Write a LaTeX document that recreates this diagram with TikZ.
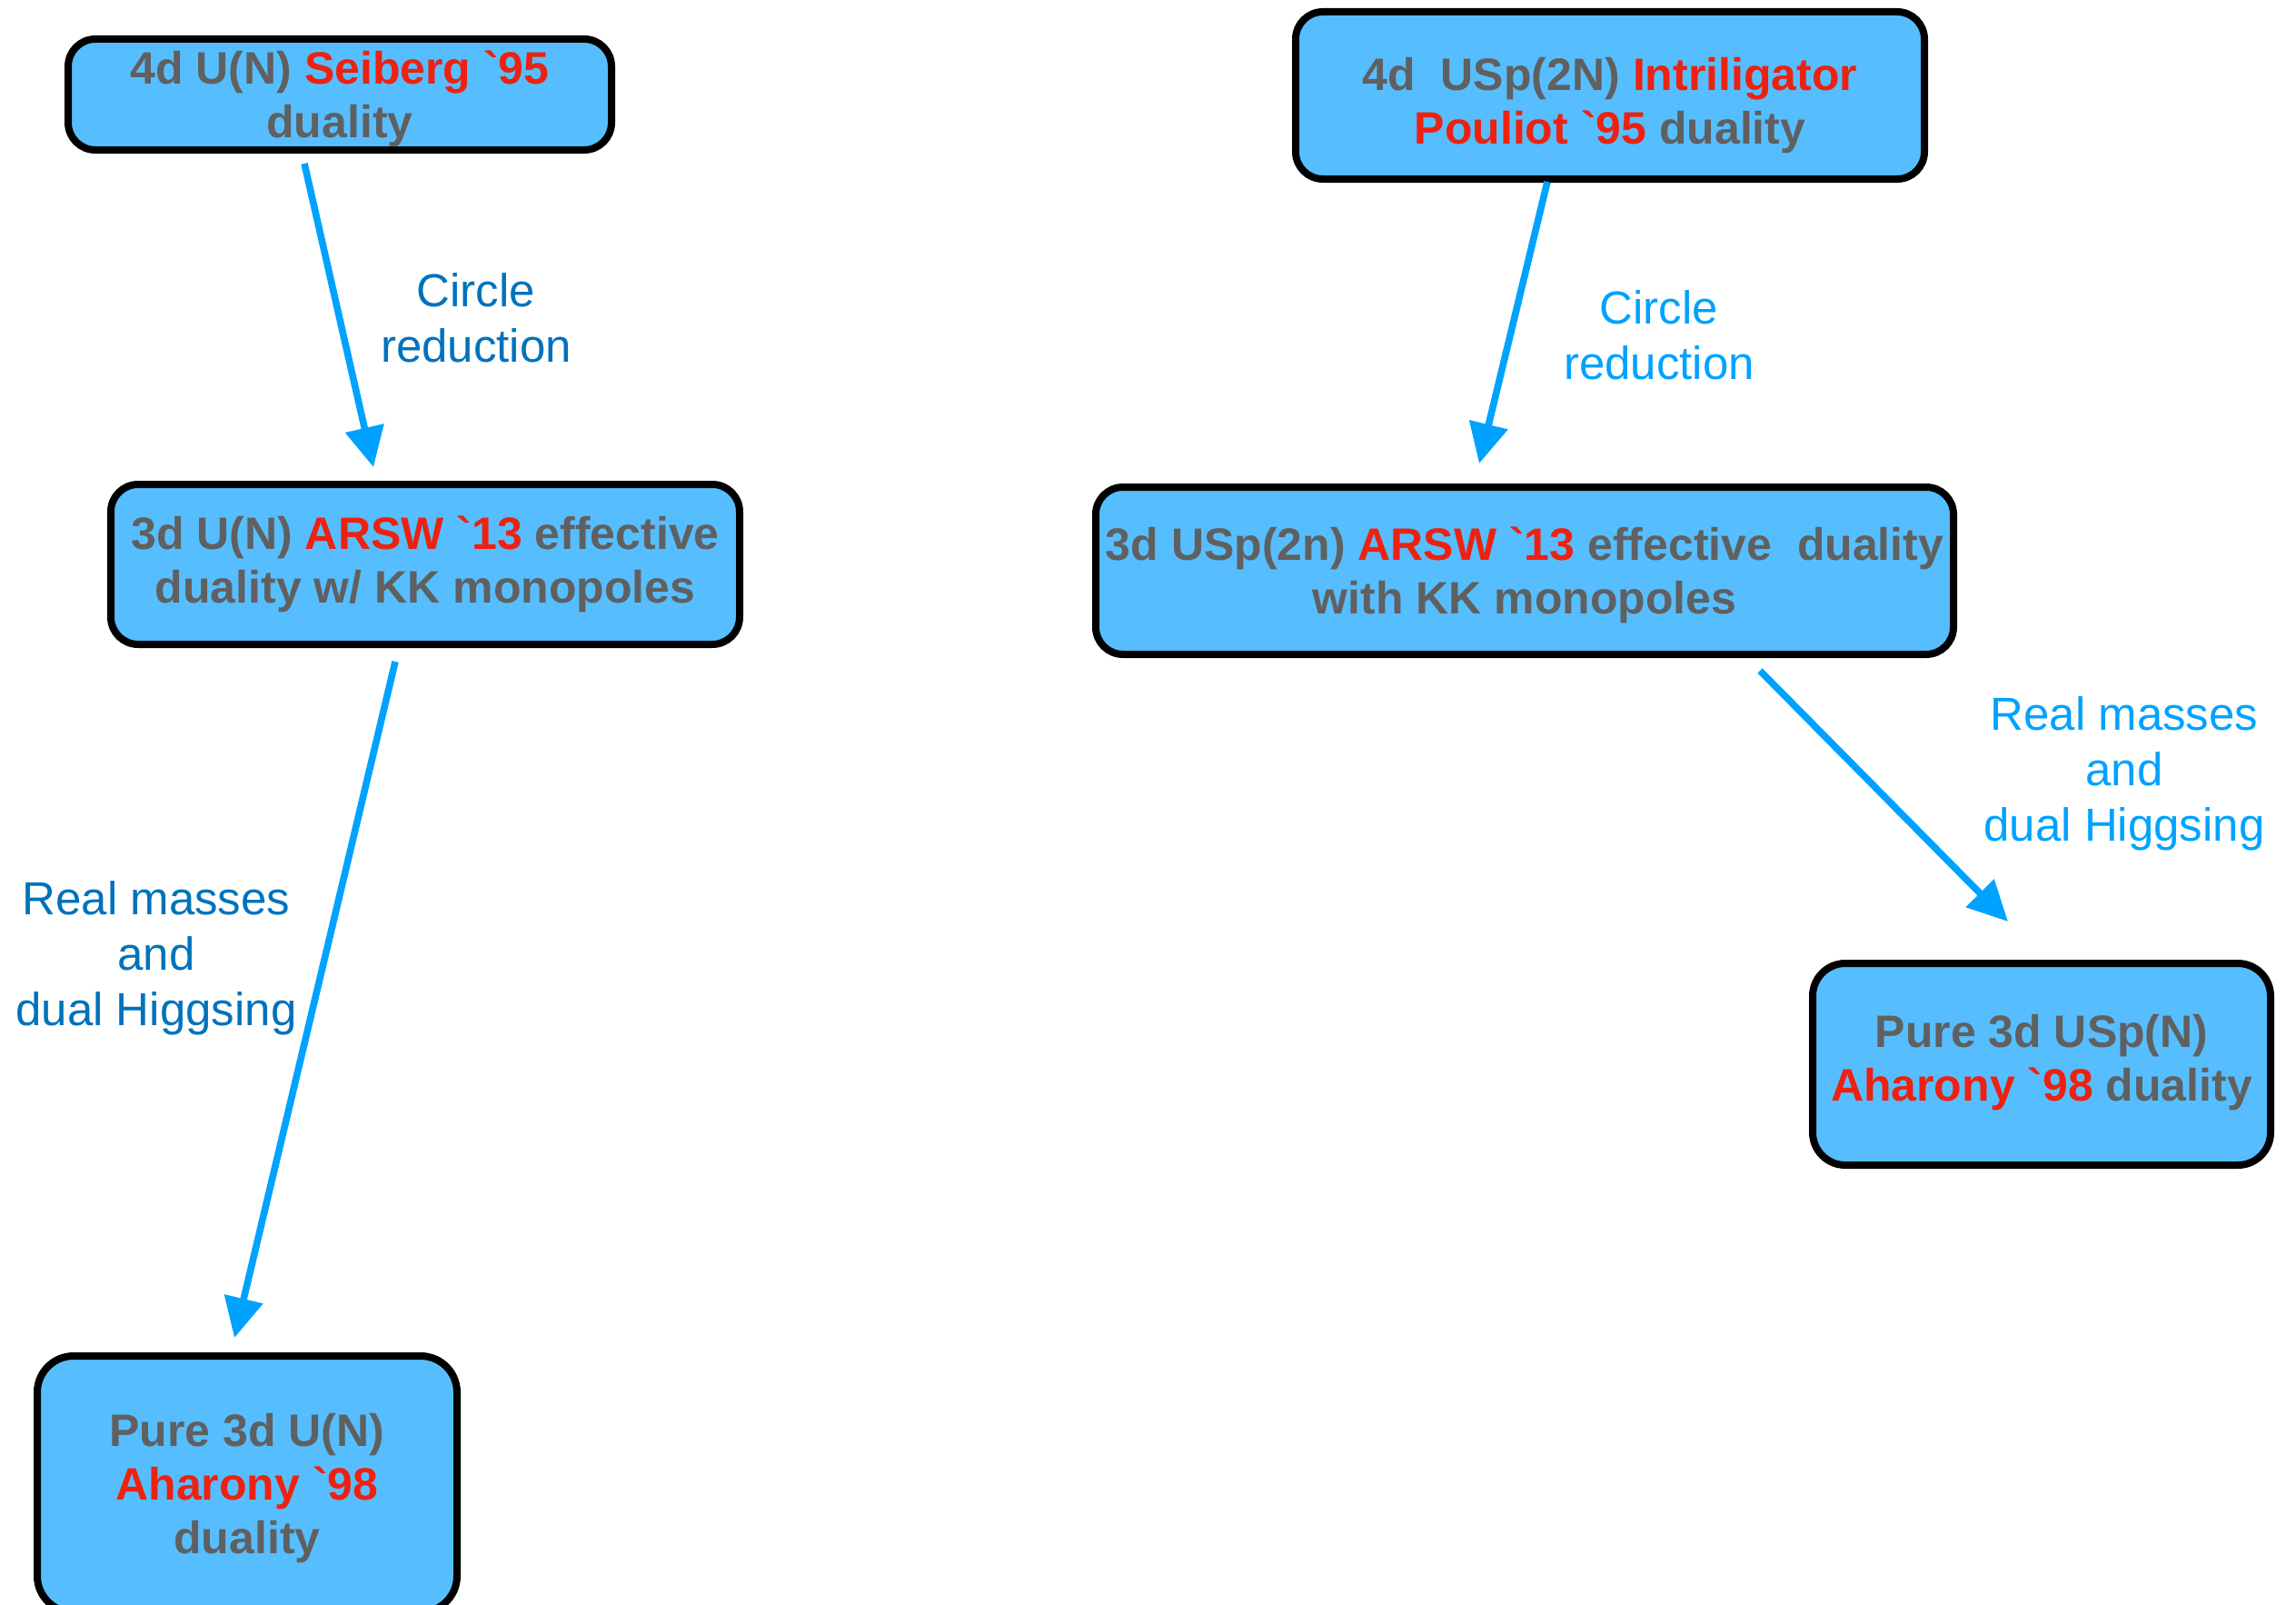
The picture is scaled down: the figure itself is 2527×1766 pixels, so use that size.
\documentclass[tikz,border=0pt]{standalone}
\usepackage{fontspec}
\setmainfont{Liberation Sans}[Ligatures=TeXOff]
\usetikzlibrary{arrows.meta}

\definecolor{boxfill}{RGB}{86,190,255}
\definecolor{boxtext}{RGB}{96,96,96}
\definecolor{refred}{RGB}{238,33,17}
\definecolor{arrowblue}{RGB}{0,162,255}
\definecolor{darklabel}{RGB}{0,114,188}
\definecolor{lightlabel}{RGB}{0,162,255}

\newcommand{\rf}[1]{\textcolor{refred}{#1}}

\tikzset{
  dualbox/.style={draw=black, line width=4pt, fill=boxfill, rounded corners=15pt,
    inner sep=0pt},
  boxcaption/.style={align=center, inner sep=0pt, text=boxtext,
    font=\bfseries\fontsize{25}{29.5}\selectfont},
  flow/.style={draw=arrowblue, line width=3.8pt,
    -{Triangle[length=22pt,width=21pt]}},
  steplabel/.style={align=center, font=\fontsize{25.5}{30.5}\selectfont}
}

\begin{document}
\begin{tikzpicture}[x=0.5pt,y=-0.5pt]
  \useasboundingbox (0,0) rectangle (2527,1766);

  % duality boxes (outline sizes measured to the centre of the border)
  \node[dualbox, minimum width=299pt, minimum height=61pt] (su4) at (374,104) {};
  \node[dualbox, minimum width=346pt, minimum height=92pt] (usp4) at (1772,105) {};
  \node[dualbox, minimum width=346pt, minimum height=88pt] (su3) at (468,621) {};
  \node[dualbox, minimum width=472pt, minimum height=92pt] (usp3) at (1678,628) {};
  \node[dualbox, rounded corners=18pt, minimum width=252pt, minimum height=111pt]
    (usppure) at (2247,1171) {};
  \node[dualbox, rounded corners=20pt, minimum width=231pt, minimum height=141pt]
    (supure) at (272,1633) {};

  % box captions
  \node[boxcaption] (su4t) at (374,109)
    {4d U(N) \rf{Seiberg `95}\\duality};
  \node[boxcaption] (usp4t) at (1772,116)
    {4d\ \ USp(2N) \rf{Intriligator}\\\rf{Pouliot `95} duality};
  \node[boxcaption] (su3t) at (468,621)
    {3d U(N) \rf{ARSW `13} effective\\duality w/ KK monopoles};
  \node[boxcaption] (usp3t) at (1678,633)
    {3d USp(2n) \rf{ARSW `13} effective\ \ duality\\with KK monopoles};
  \node[boxcaption] (usppuret) at (2247,1169)
    {Pure 3d USp(N)\\\rf{Aharony `98} duality};
  \node[boxcaption] (supuret) at (272,1638)
    {Pure 3d U(N)\\\rf{Aharony `98}\\duality};

  % arrow end points
  \coordinate (a1s) at (335,180);  \coordinate (a1e) at (411,514);
  \coordinate (a2s) at (1703,200); \coordinate (a2e) at (1628,510);
  \coordinate (a3s) at (435,728);  \coordinate (a3e) at (258,1472);
  \coordinate (a4s) at (1937,738); \coordinate (a4e) at (2210,1014);

  \draw[flow] (a1s) -- (a1e);
  \draw[flow] (a2s) -- (a2e);
  \draw[flow] (a3s) -- (a3e);
  \draw[flow] (a4s) -- (a4e);

  % step labels
  \node[steplabel, text=darklabel] (l1) at (524,350) {Circle\\reduction};
  \node[steplabel, text=lightlabel] (l2) at (1826,369) {Circle\\reduction};
  \node[steplabel, text=darklabel] (l3) at (172,1054) {Real masses\\and\\dual Higgsing};
  \node[steplabel, text=lightlabel] (l4) at (2338,851) {Real masses\\and\\dual Higgsing};
\end{tikzpicture}
\end{document}
